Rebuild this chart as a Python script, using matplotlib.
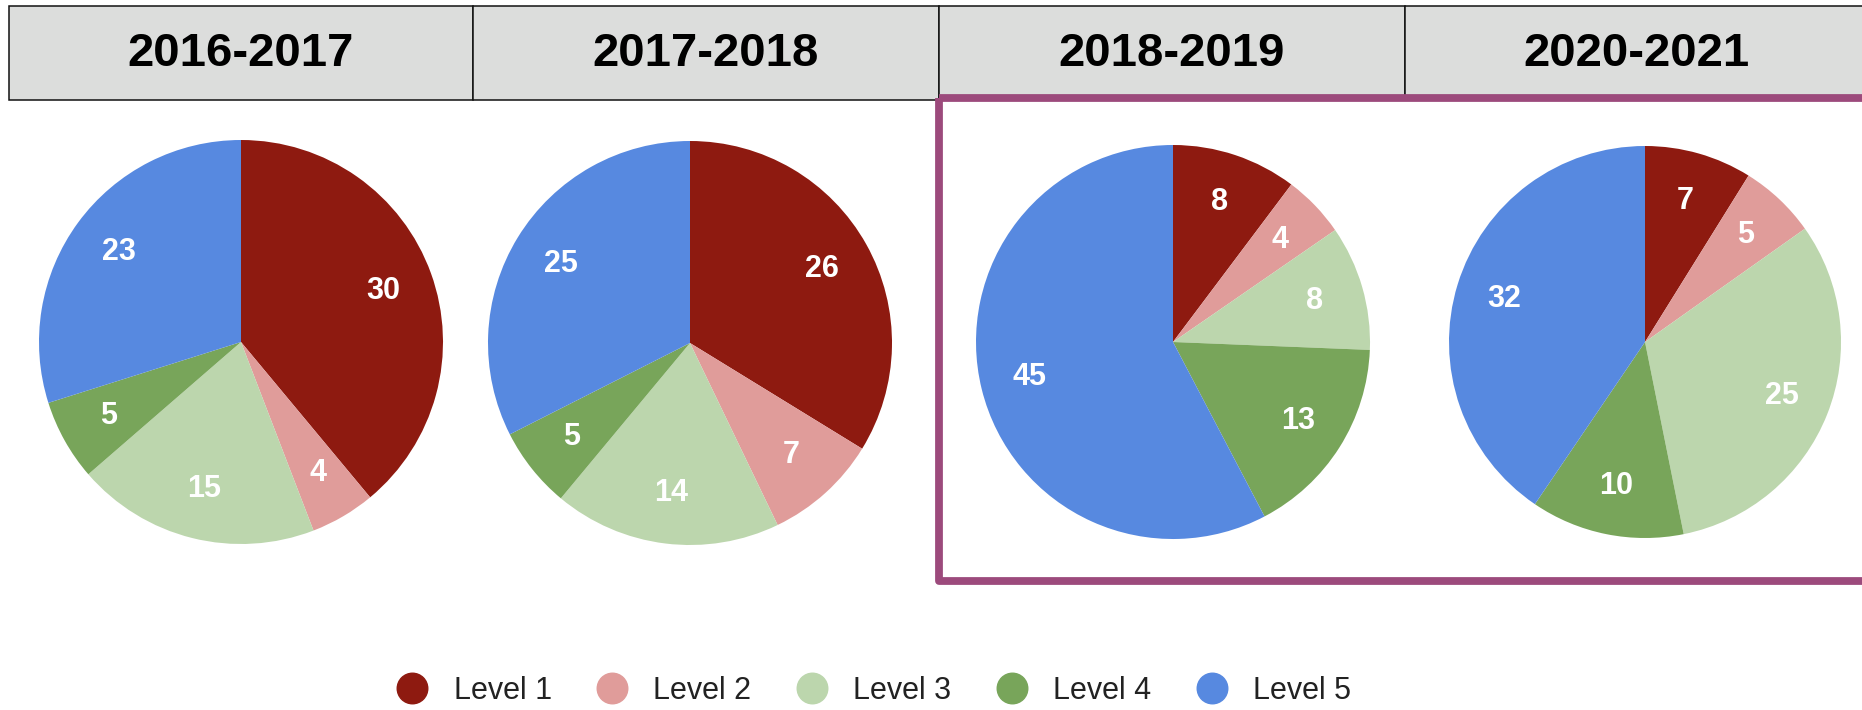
import matplotlib
matplotlib.use('Agg')
import matplotlib.pyplot as plt
from matplotlib.patches import Rectangle
from matplotlib.lines import Line2D

plt.rcParams['font.family'] = ['Liberation Sans', 'DejaVu Sans']

# 数据
years = ['2016-2017', '2017-2018', '2018-2019', '2020-2021']
levels = ['Level 1', 'Level 2', 'Level 3', 'Level 4', 'Level 5']
level_colors = ['#8e1a10', '#e09c9a', '#bcd6ad', '#78a55a', '#5789e0']
counts_1617 = [30, 4, 15, 5, 23]
counts_1718 = [26, 7, 14, 5, 25]
counts_1819 = [8, 4, 8, 13, 45]
counts_2021 = [7, 5, 25, 10, 32]
all_counts = [counts_1617, counts_1718, counts_1819, counts_2021]

W, H = 1862, 710
fig = plt.figure(figsize=(W / 100, H / 100), dpi=100)

# 背景层，用像素坐标画表头和紫框
bg = fig.add_axes([0, 0, 1, 1])
bg.set_xlim(0, W)
bg.set_ylim(H, 0)
bg.axis('off')

cell_edges = [9, 473, 939, 1405, 1868]
head_top, head_bot = 6, 100
for i, yr in enumerate(years):
    x0, x1 = cell_edges[i], cell_edges[i + 1]
    bg.add_patch(Rectangle((x0, head_top), x1 - x0, head_bot - head_top,
                           facecolor='#dcdddc', edgecolor='#111111', linewidth=1.1))
    bg.text((x0 + x1) / 2, (head_top + head_bot) / 2 + 1, yr, ha='center', va='center',
            fontsize=34, fontweight='bold', color='black')

# 紫色框，圈住后两年
bg.add_patch(Rectangle((939, 97.5), 940, 483.5, facecolor='none',
                       edgecolor='#9c4a7c', linewidth=5.6, joinstyle='round', zorder=5))

# 每个饼的位置 (中心x, 中心y, 半径) 像素
pie_pos = [(241, 342, 202), (690, 343, 202), (1173, 342, 197), (1645, 342, 196)]

for (cx, cy, r), vals in zip(pie_pos, all_counts):
    ax = fig.add_axes([(cx - r) / W, 1 - (cy + r) / H, 2 * r / W, 2 * r / H])
    total = sum(vals)
    ax.pie(vals, colors=level_colors, startangle=90, counterclock=False,
           autopct=lambda p, t=total: f'{round(p * t / 100)}', pctdistance=0.75,
           wedgeprops=dict(linewidth=0),
           textprops=dict(color='white', fontsize=22, fontweight='bold'))
    ax.set_xlim(-1, 1)
    ax.set_ylim(-1, 1)
    ax.set_aspect('equal')
    ax.axis('off')

# 图例
handles = [Line2D([], [], marker='o', linestyle='none', markersize=22,
                  markerfacecolor=c, markeredgecolor=c) for c in level_colors]
fig.legend(handles, levels, loc='center', bbox_to_anchor=(874 / W, 1 - 691 / H),
           ncol=5, frameon=False, fontsize=22, handlelength=1.0, handletextpad=0.85,
           columnspacing=1.48, labelcolor='#222222')

fig.savefig('out.png', dpi=100)
